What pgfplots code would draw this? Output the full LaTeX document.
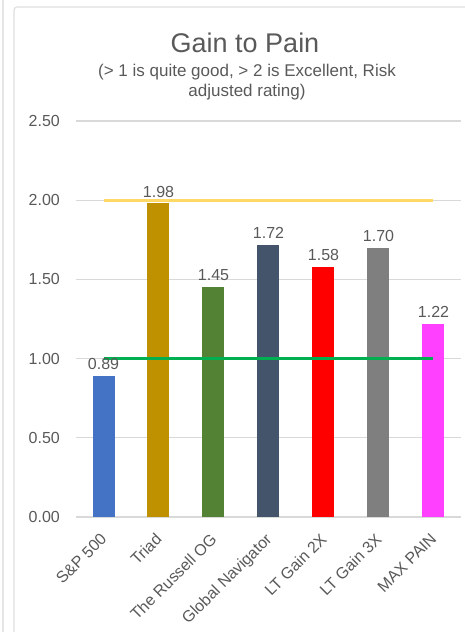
\documentclass[border=0pt]{standalone}
\usepackage{fontspec}
\setmainfont{Liberation Sans}
\usepackage{pgfplots}
\pgfplotsset{compat=1.18}
\definecolor{txt}{HTML}{595959}
\definecolor{gridc}{HTML}{D9D9D9}
\definecolor{cSP}{HTML}{4472C4}
\definecolor{cTriad}{HTML}{BF9000}
\definecolor{cRussell}{HTML}{548235}
\definecolor{cGlobal}{HTML}{44546A}
\definecolor{cLT2}{HTML}{FF0000}
\definecolor{cLT3}{HTML}{7F7F7F}
\definecolor{cMax}{HTML}{FF40FF}
\definecolor{cYellow}{HTML}{FFD966}
\definecolor{cGreen}{HTML}{00B050}
\begin{document}
\begin{tikzpicture}[x=1pt,y=1pt]
\path[use as bounding box] (0,0) rectangle (464,632);
\draw[gray!20, line width=1.2pt] (3,-5) -- (3,640);
\draw[gray!25, line width=1.2pt, rounded corners=3pt] (14,625) rectangle (490,-10);
\begin{axis}[
  at={(76pt,115pt)}, anchor=south west,
  scale only axis, width=385pt, height=396pt,
  ymin=0, ymax=2.5, xmin=-0.5, xmax=6.5,
  ybar, bar width=22pt,
  ytick={0,0.5,1,1.5,2,2.5},
  xtick={0,1,2,3,4,5,6},
  xticklabels={S\&P 500, Triad, The Russell OG, Global Navigator, LT Gain 2X, LT Gain 3X, MAX PAIN},
  /pgf/number format/fixed, /pgf/number format/fixed zerofill,
  /pgf/number format/precision=2, /pgf/number format/assume math mode=true,
  major tick length=0pt, tick style={draw=none},
  axis line style={draw=none},
  ymajorgrids, grid style={gridc, line width=1.2pt},
  yticklabel style={font=\fontsize{16}{19}\selectfont, text=txt, anchor=east, inner sep=0pt, xshift=-16pt},
  xticklabel style={font=\fontsize{16}{19}\selectfont, text=txt, xshift=-4pt, yshift=-15pt, rotate=45, anchor=north east, inner sep=0pt},
  every node near coord/.append style={font=\fontsize{16}{19}\selectfont, text=txt, inner sep=0pt, yshift=6pt},
  clip=false,
]
\addplot[fill=cSP, draw=none, bar shift=0pt, nodes near coords] coordinates {(0,0.89)};
\addplot[fill=cTriad, draw=none, bar shift=0pt, nodes near coords] coordinates {(1,1.98)};
\addplot[fill=cRussell, draw=none, bar shift=0pt, nodes near coords] coordinates {(2,1.45)};
\addplot[fill=cGlobal, draw=none, bar shift=0pt, nodes near coords] coordinates {(3,1.72)};
\addplot[fill=cLT2, draw=none, bar shift=0pt, nodes near coords] coordinates {(4,1.58)};
\addplot[fill=cLT3, draw=none, bar shift=0pt, nodes near coords] coordinates {(5,1.70)};
\addplot[fill=cMax, draw=none, bar shift=0pt, nodes near coords] coordinates {(6,1.22)};
\addplot[sharp plot, draw=cYellow, line width=3pt, no marks] coordinates {(0,2) (6,2)};
\addplot[sharp plot, draw=cGreen, line width=3pt, no marks] coordinates {(0,1) (6,1)};
\end{axis}
\node[text=txt, font=\fontsize{27}{32}\selectfont] at (245,589) {Gain to Pain};
\node[text=txt, font=\fontsize{17}{20}\selectfont, align=center] at (247,550) {(> 1 is quite good, > 2 is Excellent, Risk\\adjusted rating)};
\end{tikzpicture}
\end{document}
